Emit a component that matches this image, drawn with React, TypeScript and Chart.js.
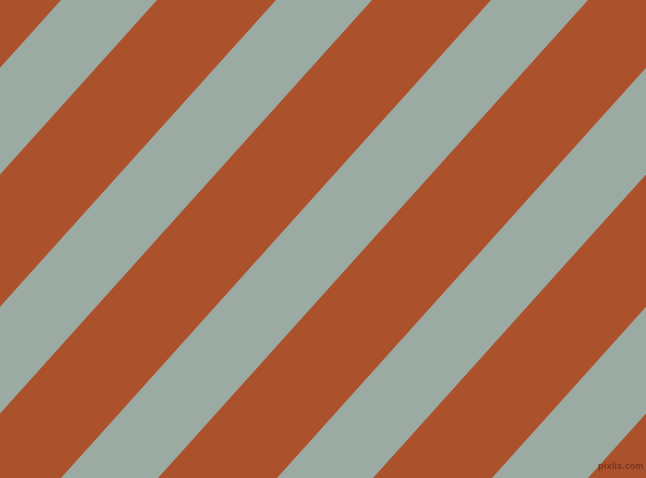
import { useEffect, useRef } from "react";
import Chart from "chart.js/auto";

// x where each grey band's edges cross the top of the picture (y = 0);
// the last two bands only enter from the bottom, so their top crossing is off to the right
const bandLeftTop = [61, 276, 491, 707, 922];
const bandRightTop = [157, 372, 588, 803, 1018];

// the edges drop 478px while moving 430px to the left
const edgeRise = 478;
const edgeRun = 430;

const WIDTH = 646;
const HEIGHT = 478;
const EXTEND = [-700, 1400];

const ORANGE = "#ab522d";
const GREY = "#9baba4";

const edgeLine = (topX: number) =>
  EXTEND.map((x) => ({ x, y: ((topX - x) * edgeRise) / edgeRun }));

const App = () => {
  const chartRef = useRef<HTMLCanvasElement>(null);
  const chartInstance = useRef<Chart | null>(null);

  useEffect(() => {
    document.body.style.margin = "0";
    if (!chartRef.current) return;

    if (chartInstance.current) {
      chartInstance.current.destroy();
    }

    const ctx = chartRef.current.getContext("2d");
    if (!ctx) return;

    const datasets: any[] = [];
    bandLeftTop.forEach((left, i) => {
      datasets.push({
        data: edgeLine(left),
        borderWidth: 0,
        pointRadius: 0,
        backgroundColor: GREY,
        fill: "+1",
      });
      datasets.push({
        data: edgeLine(bandRightTop[i]),
        borderWidth: 0,
        pointRadius: 0,
        fill: false,
      });
    });

    chartInstance.current = new Chart(ctx, {
      type: "line",
      data: { datasets },
      options: {
        responsive: true,
        maintainAspectRatio: false,
        animation: false,
        layout: { padding: 0 },
        plugins: {
          legend: { display: false },
          tooltip: { enabled: false },
        },
        scales: {
          x: { type: "linear", min: 0, max: WIDTH, display: false },
          y: { type: "linear", min: 0, max: HEIGHT, reverse: true, display: false },
        },
      },
    });

    return () => {
      if (chartInstance.current) {
        chartInstance.current.destroy();
        chartInstance.current = null;
      }
    };
  }, []);

  return (
    <div
      style={{
        position: "relative",
        width: WIDTH,
        height: HEIGHT,
        backgroundColor: ORANGE,
        overflow: "hidden",
      }}
    >
      <canvas ref={chartRef} />
      <span
        style={{
          position: "absolute",
          left: 598,
          top: 463,
          fontFamily: "'DejaVu Sans', sans-serif",
          fontSize: 8,
          fontWeight: "bold",
          color: "rgba(95, 38, 16, 0.75)",
          textShadow: "0 0 1px rgba(200, 120, 90, 0.6)",
          lineHeight: 1,
        }}
      >
        pixlis.com
      </span>
    </div>
  );
};

export default App;
